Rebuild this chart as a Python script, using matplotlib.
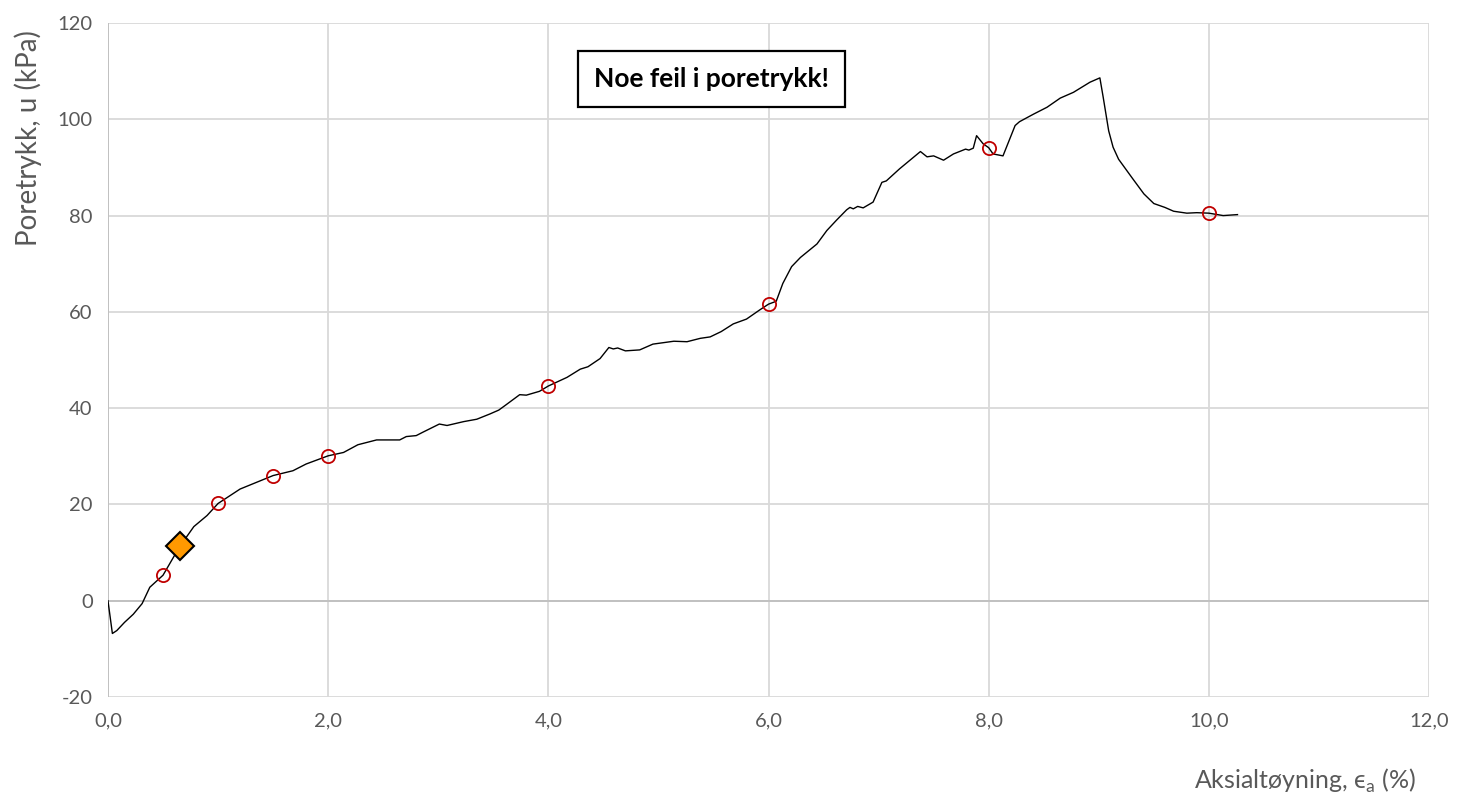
import matplotlib.pyplot as plt

plt.rcParams['font.family'] = ['Lato', 'DejaVu Sans']
plt.rcParams['axes.unicode_minus'] = False

# pore pressure curve (strain %, u kPa)
strain = [0.0, 0.04, 0.08, 0.15, 0.23, 0.31, 0.38, 0.5, 0.65, 0.78, 0.90, 1.0,
          1.2, 1.5, 1.68, 1.8, 2.0, 2.14, 2.27, 2.44, 2.65, 2.71, 2.80, 2.86,
          3.01, 3.08, 3.23, 3.35, 3.47, 3.55, 3.61, 3.74, 3.80, 3.92, 4.0,
          4.17, 4.29, 4.36, 4.47, 4.55, 4.59, 4.63, 4.70, 4.83, 4.95, 5.14,
          5.26, 5.38, 5.47, 5.57, 5.68, 5.80, 5.92, 6.0, 6.07, 6.13, 6.21,
          6.29, 6.44, 6.53, 6.62, 6.71, 6.74, 6.77, 6.81, 6.86, 6.95, 7.03,
          7.07, 7.19, 7.38, 7.44, 7.50, 7.59, 7.68, 7.79, 7.82, 7.86, 7.89,
          7.95, 8.0, 8.04, 8.13, 8.24, 8.28, 8.41, 8.53, 8.65, 8.77, 8.92,
          9.01, 9.04, 9.09, 9.13, 9.18, 9.31, 9.41, 9.50, 9.60, 9.68, 9.80,
          9.89, 10.0, 10.13, 10.26]
u = [0.0, -6.8, -6.2, -4.5, -2.8, -0.6, 2.8, 5.3, 11.2, 15.4, 17.7, 20.2,
     23.2, 26.0, 27.0, 28.4, 30.1, 30.8, 32.4, 33.4, 33.4, 34.1, 34.3, 35.0,
     36.7, 36.4, 37.2, 37.7, 38.8, 39.6, 40.6, 42.8, 42.7, 43.5, 44.6,
     46.4, 48.1, 48.6, 50.3, 52.6, 52.3, 52.5, 51.9, 52.1, 53.3, 53.9,
     53.8, 54.5, 54.8, 55.9, 57.5, 58.5, 60.4, 61.6, 62.2, 65.9, 69.4,
     71.3, 74.1, 76.9, 79.1, 81.2, 81.7, 81.4, 81.9, 81.6, 82.8, 86.9,
     87.2, 89.7, 93.3, 92.2, 92.4, 91.5, 92.8, 93.8, 93.6, 94.0, 96.6,
     94.9, 94.1, 92.8, 92.4, 98.7, 99.5, 101.1, 102.5, 104.4, 105.6, 107.7,
     108.6, 104.6, 97.6, 94.2, 91.7, 87.6, 84.5, 82.5, 81.7, 80.9, 80.5,
     80.6, 80.5, 80.0, 80.2]

# marked points
circle_x = [0.5, 1.0, 1.5, 2.0, 4.0, 6.0, 8.0, 10.0]
circle_u = [5.3, 20.2, 26.0, 30.1, 44.6, 61.6, 94.0, 80.5]
diamond_x = [0.65]
diamond_u = [11.4]

xticks = [0, 2, 4, 6, 8, 10, 12]
yticks = [-20, 0, 20, 40, 60, 80, 100, 120]

fig = plt.figure(figsize=(14.69, 8.01), dpi=100)
ax = fig.add_axes([0.0735, 0.1298, 0.8993, 0.8415])

grid_c = '#d9d9d9'
for xv in xticks:
    ax.axvline(xv, color=grid_c, lw=1.3, zorder=0)
for yv in yticks:
    ax.axhline(yv, color=grid_c, lw=1.3, zorder=0)
ax.axhline(0, color='#bfbfbf', lw=1.3, zorder=0.5)
ax.axvline(0, color='#bfbfbf', lw=1.3, zorder=0.5)

ax.plot(strain, u, color='black', lw=1.0, zorder=2)
ax.plot(circle_x, circle_u, 'o', ms=9.5, mfc='none', mec='#c00000', mew=1.3, zorder=3)
ax.plot(diamond_x, diamond_u, 'D', ms=14, mfc='#ff9900', mec='black', mew=1.5, zorder=4)

ax.set_xlim(0, 12)
ax.set_ylim(-20, 120)
ax.set_xticks(xticks)
ax.set_xticklabels([f'{v:.1f}'.replace('.', ',') for v in xticks])
ax.set_yticks(yticks)
for s in ax.spines.values():
    s.set_visible(False)
ax.tick_params(length=0, labelsize=14.5, labelcolor='#595959', pad=11)

ax.text(0.457, 0.917, 'Noe feil i poretrykk!', transform=ax.transAxes,
        ha='center', va='center', fontsize=19, fontweight='bold',
        bbox=dict(boxstyle='square,pad=0.6', facecolor='white',
                  edgecolor='black', linewidth=1.6), zorder=5)

fig.text(0.019, 0.828, 'Poretrykk, u (kPa)', rotation=90, ha='center', va='center',
         fontsize=20, color='#595959')
fig.text(0.888, 0.025, 'Aksialtøyning, ϵ$_\\mathregular{a}$ (%)', ha='center', va='center',
         fontsize=18, color='#595959')

fig.savefig('out.png', dpi=100, facecolor='white')
